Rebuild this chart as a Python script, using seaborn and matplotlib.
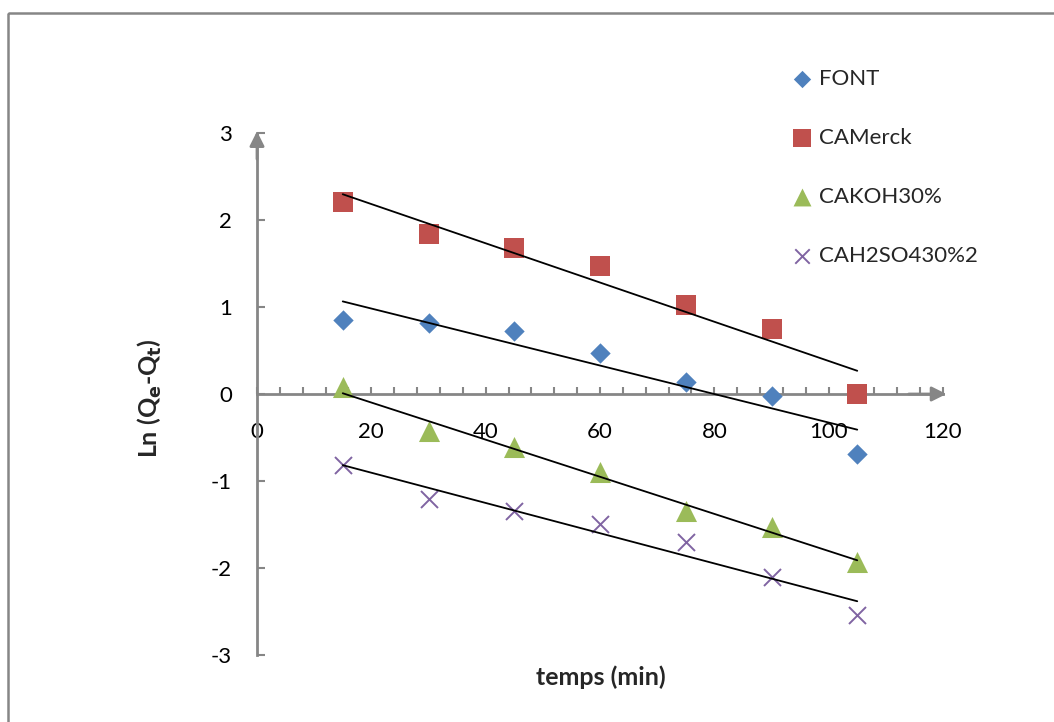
import numpy as np
import pandas as pd
import matplotlib
matplotlib.use("Agg")
import matplotlib.pyplot as plt
from matplotlib.patches import Rectangle
from matplotlib.ticker import MultipleLocator
import seaborn as sns

# Kinetic data: ln(Qe - Qt) against contact time
temps = [15, 30, 45, 60, 75, 90, 105]
font_vals = [0.85, 0.82, 0.72, 0.47, 0.14, -0.02, -0.69]
camerck_vals = [2.21, 1.84, 1.68, 1.47, 1.02, 0.75, 0.00]
cakoh_vals = [0.08, -0.43, -0.61, -0.90, -1.34, -1.53, -1.93]
cah2so4_vals = [-0.82, -1.21, -1.34, -1.49, -1.70, -2.10, -2.54]

series_names = ["FONT", "CAMerck", "CAKOH30%", "CAH2SO430%2"]
series_vals = [font_vals, camerck_vals, cakoh_vals, cah2so4_vals]
series_colors = ["#4F81BD", "#C0504D", "#9BBB59", "#8064A2"]

x_ticks = [0, 20, 40, 60, 80, 100, 120]
y_ticks = [-3, -2, -1, 0, 1, 2, 3]

sns.set_theme(style="white")
plt.rcParams["font.family"] = ["Lato", "DejaVu Sans"]
plt.rcParams["axes.unicode_minus"] = False

diamond = [(0, 1), (1, 0), (0, -1), (-1, 0), (0, 1)]
marker_specs = [
    dict(marker=diamond, s=215, linewidth=0),
    dict(marker="s", s=210, linewidth=0),
    dict(marker="^", s=230, linewidth=0),
    dict(marker="x", s=150, linewidth=1.4),
]

fig = plt.figure(figsize=(10.54, 7.22), dpi=100)
ax = fig.add_axes([257 / 1054, 1 - 655 / 722, 686 / 1054, 522 / 722])

gray = "#868686"

for name, vals, color, spec in zip(series_names, series_vals, series_colors, marker_specs):
    df = pd.DataFrame({"temps": temps, "ln": vals})
    sns.scatterplot(data=df, x="temps", y="ln", color=color, label=name,
                    ax=ax, zorder=3, clip_on=False, **spec)

# Linear trend lines for each series
for vals in series_vals:
    df = pd.DataFrame({"temps": temps, "ln": vals})
    sns.regplot(data=df, x="temps", y="ln", scatter=False, ci=None, truncate=True,
                color="black", line_kws=dict(linewidth=1.3, zorder=4), ax=ax)

ax.set_xlim(0, 120)
ax.set_ylim(-3, 3)
ax.set_xticks(x_ticks)
ax.set_yticks(y_ticks)
ax.xaxis.set_minor_locator(MultipleLocator(4))

# Axes crossing at the origin
ax.spines["left"].set_position(("data", 0))
ax.spines["bottom"].set_position(("data", 0))
ax.spines["right"].set_visible(False)
ax.spines["top"].set_visible(False)
for side in ("left", "bottom"):
    ax.spines[side].set_color(gray)
    ax.spines[side].set_linewidth(2)
    ax.spines[side].set_zorder(1)

ax.tick_params(axis="x", which="both", direction="in", length=5, width=1.5,
               color=gray, labelsize=16, pad=20, bottom=True)
ax.tick_params(axis="y", which="major", direction="in", length=6, width=1.5,
               color=gray, labelsize=16, pad=18, left=True)
for lab in ax.get_xticklabels() + ax.get_yticklabels():
    lab.set_color("black")

# Arrowheads at the ends of both axes
arrow_kw = dict(arrowstyle="-|>", color=gray, lw=2, mutation_scale=22,
                shrinkA=0, shrinkB=0)
ax.annotate("", xy=(120.6, 0), xytext=(114, 0), arrowprops=arrow_kw,
            annotation_clip=False)
ax.annotate("", xy=(0, 3.02), xytext=(0, 2.7), arrowprops=arrow_kw,
            annotation_clip=False)

ax.set_xlabel("")
ax.set_ylabel("")
fig.text(601 / 1054, 1 - 677 / 722, "temps (min)", ha="center", va="center",
         fontsize=18, fontweight="bold")
fig.text(150 / 1054, 1 - 398 / 722, r"Ln (Q$_\mathbf{e}$-Q$_\mathbf{t}$)",
         ha="center", va="center", rotation=90, fontsize=18, fontweight="bold")

leg = ax.legend(loc="upper left", bbox_to_anchor=(778 / 1054, 1 - 60 / 722),
                bbox_transform=fig.transFigure, frameon=False, fontsize=16,
                labelspacing=1.76, handletextpad=0.05, handlelength=1.4,
                borderaxespad=0, markerscale=0.85)

# Outer chart border
fig.patches.append(Rectangle((7.5 / 1054, 1 - 12.5 / 722), 1.2, -1.2,
                             transform=fig.transFigure, fill=False,
                             edgecolor=gray, linewidth=1.8))

fig.savefig("out.png", dpi=100)
